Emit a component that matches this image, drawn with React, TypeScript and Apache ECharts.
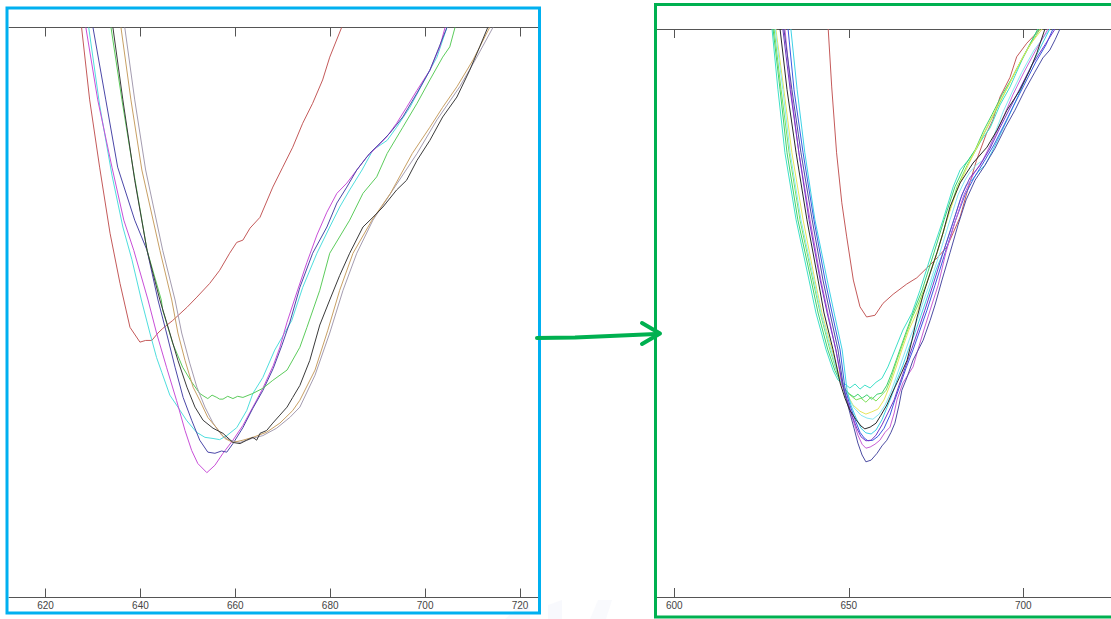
import React, { useEffect, useRef } from "react";
import * as echarts from "echarts";

// ---------- tick labels ----------
const leftTicks = [620, 640, 660, 680, 700, 720];
const rightTicks = [600, 650, 700];

// ---------- left panel (before) : [wavelength, relative value] ----------
const leftRed = [[627.6,100],[629.3,87.3],[631.4,75.5],[633.6,63.9],[635.7,55.1],[637.8,47.4],[639.9,44.8],[641.1,45.1],[642.4,45.1],[643.7,46.4],[644.7,47.2],[646.8,48.6],[649.8,50.9],[651.9,52.7],[654.6,55.1],[656.7,57.4],[658.8,60.4],[660.3,62.3],[661.6,62.7],[663.1,64.8],[665.2,66.7],[667.9,72.0],[670.0,75.5],[672.1,79.0],[674.2,83.2],[676.3,86.7],[678.4,90.8],[679.9,94.8],[682.4,100]];
const leftMagenta = [[628.5,100],[631.0,87.3],[634.0,75.5],[636.5,66.2],[638.6,60.9],[641.6,52.2],[643.4,46.4],[645.5,40.4],[647.6,34.6],[649.4,29.3],[650.8,25.8],[652.1,23.5],[654.0,21.9],[655.7,23.2],[657.4,25.3],[659.5,27.6],[661.6,30.2],[663.7,33.4],[665.8,36.7],[668.0,40.7],[669.4,43.9],[670.9,48.3],[673.0,53.6],[675.1,58.8],[677.2,63.6],[679.3,67.6],[681.4,70.9],[683.5,72.7],[685.6,75.0],[687.7,77.3],[689.8,79.0],[691.9,80.8],[694.0,83.2],[696.1,86.0],[698.3,89.0],[701.0,92.5],[703.1,96.6],[704.2,100]];
const leftCyan = [[629.1,100],[631.4,86.4],[634.0,74.1],[636.3,65.0],[638.2,59.3],[640.2,52.2],[642.0,46.4],[643.4,42.1],[644.5,39.5],[646.2,35.5],[647.9,33.4],[649.7,31.1],[651.8,29.0],[653.6,28.1],[655.3,27.9],[656.7,27.7],[658.2,28.4],[660.3,29.8],[662.4,32.8],[663.7,35.8],[665.8,38.6],[668.3,43.4],[671.9,48.6],[674.2,54.4],[677.2,60.4],[679.9,65.0],[682.0,68.5],[684.1,71.5],[686.7,75.0],[689.0,78.5],[692.0,80.2],[694.0,82.5],[696.8,86.0],[699.5,90.2],[702.5,94.8],[704.6,100]];
const leftNavy = [[630.0,100],[632.7,87.3],[635.2,75.5],[638.8,66.2],[641.4,60.9],[643.7,52.2],[645.5,46.4],[647.3,40.4],[649.0,35.1],[650.8,31.1],[652.5,27.6],[654.2,25.5],[655.7,25.3],[657.1,25.7],[658.2,25.5],[659.5,27.0],[661.6,29.8],[663.7,33.2],[665.8,36.3],[668.0,40.2],[669.8,44.2],[671.5,48.3],[673.6,54.4],[676.3,60.4],[679.3,65.0],[681.4,69.2],[683.5,72.0],[685.6,75.0],[688.3,77.9],[690.5,79.7],[692.6,81.5],[695.3,84.3],[698.3,88.5],[701.0,92.5],[704.6,100]];
const leftGreen = [[633.8,100],[636.1,87.3],[638.4,75.5],[641.4,60.9],[644.4,52.2],[644.7,50.4],[646.8,44.6],[648.9,40.4],[650.8,37.8],[652.5,35.8],[653.4,35.3],[654.2,34.9],[655.1,35.5],[656.1,35.1],[656.7,34.8],[657.4,34.8],[658.4,35.3],[659.5,34.9],[660.5,35.3],[661.6,35.1],[663.7,35.8],[665.8,36.7],[667.9,38.1],[670.9,39.9],[673.6,43.9],[675.1,47.4],[677.8,53.9],[679.9,60.4],[684.1,66.2],[686.9,70.9],[689.8,73.8],[692.0,77.9],[695.3,82.5],[698.3,86.7],[701.0,90.8],[703.7,94.8],[705.2,96.6],[706.3,100]];
const leftBlack = [[634.2,100],[636.3,87.3],[638.8,73.2],[641.4,60.9],[644.1,52.2],[646.2,46.4],[647.9,41.6],[649.8,36.9],[651.5,33.4],[653.2,31.1],[655.3,29.7],[657.4,28.8],[659.5,27.2],[661.0,27.0],[662.4,27.6],[663.7,28.1],[664.5,27.6],[665.2,28.8],[666.6,29.3],[667.9,30.6],[669.4,32.0],[670.9,33.4],[672.1,35.1],[673.6,37.2],[675.7,41.6],[677.8,47.8],[679.9,52.2],[682.0,56.5],[684.1,60.4],[686.9,65.0],[689.0,66.7],[691.1,68.5],[694.0,71.5],[696.1,73.2],[698.3,76.7],[701.0,80.2],[703.7,84.3],[706.7,87.8],[709.4,92.5],[711.5,96.6],[713.2,100]];
const leftTan = [[635.9,100],[638.0,87.3],[640.3,75.0],[644.1,60.9],[646.6,52.2],[647.9,46.4],[649.4,41.6],[651.1,36.9],[652.5,34.6],[654.2,31.6],[656.1,29.7],[657.8,27.9],[659.5,27.2],[661.6,27.6],[663.7,28.1],[666.6,29.0],[669.4,30.6],[672.1,32.8],[673.6,34.6],[676.8,39.9],[679.5,46.9],[682.0,53.9],[684.8,60.4],[688.8,66.2],[692.7,70.9],[697.3,77.9],[701.0,82.5],[703.7,86.0],[706.7,89.6],[710.1,94.3],[713.6,100]];
const leftGray = [[636.7,100],[638.8,87.3],[641.1,75.0],[644.7,60.9],[647.3,52.2],[648.7,46.4],[650.4,41.1],[651.9,36.9],[653.6,33.4],[655.3,30.6],[657.2,28.4],[658.8,27.6],[661.0,27.2],[663.5,27.9],[665.8,28.4],[668.7,29.7],[671.5,31.6],[673.6,33.4],[676.8,39.0],[679.9,46.4],[682.7,53.9],[685.6,60.4],[689.0,66.2],[693.2,71.5],[698.3,77.9],[702.5,83.8],[707.3,89.6],[710.9,94.8],[714.3,100]];

// ---------- right panel (after) ----------
const rightRed = [[644.1,100],[645.1,89.8],[646.5,78.2],[648.0,69.4],[649.4,63.4],[651.3,55.8],[653.2,51.1],[655.1,49.3],[657.5,49.6],[659.8,51.7],[662.7,53.3],[666.6,55.1],[669.5,56.2],[672.3,57.9],[674.7,59.3],[678.1,61.6],[679.9,64.1],[681.9,66.9],[683.8,71.1],[686.6,76.9],[689.5,81.7],[691.3,84.0],[693.3,88.0],[696.2,91.5],[698.1,95.1],[701.0,97.5],[703.8,99.3],[704.8,100]];
const rightTeal = [[628.0,100],[629.7,89.3],[631.7,78.2],[634.9,66.4],[638.6,55.8],[640.6,50.0],[643.5,43.5],[645.5,39.9],[646.9,38.2],[648.9,37.5],[650.3,36.8],[651.8,37.5],[653.2,36.6],[654.6,37.3],[656.1,36.8],[657.8,37.8],[659.5,38.5],[661.2,40.5],[663.2,43.5],[665.5,47.0],[668.1,50.0],[670.4,54.0],[673.8,60.6],[677.0,66.4],[679.9,72.2],[681.9,75.2],[684.2,76.9],[686.2,78.7],[688.4,80.8],[690.5,82.6],[693.3,86.6],[696.2,89.8],[699.6,94.5],[704.2,100]];
const rightGreen1 = [[628.3,100],[630.3,89.3],[632.3,78.2],[635.4,66.4],[639.2,55.8],[641.2,50.0],[644.0,43.5],[646.0,39.9],[648.1,37.3],[649.8,35.9],[651.5,35.2],[652.6,35.7],[653.8,35.0],[655.2,35.6],[656.6,34.8],[658.1,35.7],[659.5,35.9],[660.9,37.3],[662.4,39.6],[664.1,42.6],[666.1,46.1],[668.4,50.0],[671.0,54.0],[674.4,60.6],[677.3,66.4],[680.4,72.2],[683.3,76.0],[686.2,78.7],[688.7,82.2],[691.0,84.9],[693.9,88.4],[696.8,91.4],[700.2,95.4],[704.2,100]];
const rightGreen2 = [[628.6,100],[630.6,89.3],[632.9,78.2],[636.0,66.4],[639.7,55.8],[641.8,50.0],[644.6,43.5],[646.6,39.6],[648.3,37.1],[650.3,35.6],[652.1,34.7],[653.5,35.0],[654.9,34.3],[656.4,35.2],[657.8,34.5],[659.2,35.4],[660.7,36.4],[662.1,38.5],[663.8,41.7],[665.8,45.2],[668.1,49.1],[669.8,51.4],[672.4,55.4],[675.3,60.6],[678.1,66.4],[681.0,72.2],[683.9,76.0],[686.7,79.0],[689.6,82.6],[692.2,85.7],[694.8,88.9],[697.9,92.8],[701.1,96.3],[704.8,100]];
const rightYellow = [[629.1,100],[631.4,89.3],[633.7,78.2],[636.9,66.4],[640.3,55.8],[642.3,50.0],[645.2,43.5],[647.2,39.1],[649.2,36.1],[651.2,33.8],[653.2,32.7],[654.9,32.2],[656.6,32.6],[658.4,33.1],[660.1,34.7],[661.8,37.3],[663.5,40.3],[665.2,43.5],[667.2,47.0],[669.8,50.5],[672.1,54.9],[675.3,60.6],[678.1,66.4],[681.3,72.2],[684.2,76.0],[687.0,79.6],[689.9,83.1],[692.7,86.6],[695.6,89.8],[699.1,94.2],[701.9,97.2],[705.4,100]];
const rightLightCyan = [[628.9,100],[631.1,89.3],[633.2,78.2],[636.3,66.4],[640.0,55.8],[642.0,50.0],[644.9,43.5],[646.9,39.1],[649.2,35.9],[651.5,33.3],[653.5,32.0],[655.2,31.5],[656.9,31.3],[658.7,32.2],[660.4,33.8],[662.1,36.1],[663.8,39.1],[665.5,42.1],[667.5,45.6],[669.8,49.1],[671.0,51.4],[673.3,55.4],[676.1,60.6],[679.0,66.4],[681.3,70.8],[683.3,73.4],[684.7,74.8],[686.4,76.0],[688.4,76.9],[690.5,79.2],[692.2,82.2],[694.2,85.4],[696.8,88.9],[699.6,92.4],[703.1,96.3],[707.6,100]];
const rightBlack = [[630.3,100],[632.3,89.3],[634.9,78.2],[638.0,66.4],[641.2,55.8],[642.9,50.0],[645.5,43.5],[647.5,37.7],[648.9,35.0],[650.3,32.9],[652.1,31.2],[653.5,30.1],[654.6,29.6],[656.1,29.9],[657.8,30.6],[659.2,32.0],[660.9,33.8],[662.4,35.9],[663.8,37.7],[665.2,39.6],[666.7,41.7],[668.1,45.2],[669.5,49.1],[671.3,53.2],[673.3,57.0],[675.3,60.7],[677.0,64.1],[679.0,68.7],[681.9,72.9],[685.6,76.4],[689.6,79.2],[692.5,82.2],[695.3,85.7],[699.1,89.3],[701.9,92.8],[703.9,95.8],[706.2,100]];
const rightPurple = [[631.1,100],[633.2,89.3],[635.7,78.2],[638.6,66.4],[641.8,55.8],[643.8,50.0],[646.3,43.5],[648.1,37.7],[649.5,34.7],[650.9,32.0],[652.3,29.7],[653.5,28.2],[654.9,27.5],[656.4,27.6],[657.8,28.5],[659.5,30.3],[661.2,32.4],[663.0,34.7],[664.4,37.3],[666.1,40.3],[668.1,43.8],[670.1,47.4],[671.8,50.5],[674.1,54.9],[677.0,60.6],[679.9,66.0],[682.4,70.8],[684.7,73.8],[687.6,76.0],[690.5,79.0],[693.3,82.6],[696.2,86.1],[699.1,89.6],[702.5,93.7],[706.2,97.2],[709.1,100]];
const rightMagenta = [[631.7,100],[633.4,89.3],[635.7,78.2],[638.9,66.4],[642.0,55.8],[644.0,50.0],[646.3,43.5],[648.1,37.3],[649.8,34.1],[651.2,31.2],[652.6,28.5],[653.8,26.9],[654.9,26.2],[656.1,26.4],[657.5,26.9],[658.9,27.6],[660.4,29.0],[661.8,29.9],[663.0,32.4],[663.8,34.7],[665.5,37.7],[668.4,40.5],[669.8,43.5],[671.5,47.0],[673.3,50.5],[675.6,54.9],[677.8,60.6],[680.4,66.0],[683.0,70.8],[685.6,74.3],[688.4,76.9],[691.3,80.5],[694.2,84.3],[697.0,88.4],[700.2,92.4],[703.6,96.3],[707.1,100]];
const rightIndigo = [[631.4,100],[633.7,89.3],[636.3,78.2],[639.5,66.4],[642.6,55.8],[644.6,50.0],[646.9,43.5],[648.6,36.4],[650.1,32.9],[651.5,29.7],[652.6,27.1],[653.8,25.0],[654.9,23.8],[656.4,24.1],[658.1,25.3],[659.5,26.6],[660.9,27.6],[662.1,29.0],[663.2,30.6],[664.4,33.8],[665.2,36.4],[666.7,38.7],[668.4,41.7],[671.3,45.2],[673.3,48.7],[674.7,51.4],[676.7,55.8],[679.0,60.6],[681.3,65.5],[683.6,69.9],[686.2,73.4],[689.0,76.0],[691.9,79.0],[694.8,82.6],[697.6,85.7],[700.5,89.3],[703.3,92.4],[705.6,94.9],[707.6,96.3],[709.1,98.1],[710.5,100]];
const rightBlue = [[632.6,100],[634.3,89.3],[636.9,78.2],[640.0,66.4],[643.2,55.8],[645.2,50.0],[647.5,43.5],[648.9,36.8],[650.3,33.8],[651.8,31.2],[653.2,29.0],[654.4,28.0],[655.5,27.5],[656.9,27.6],[658.4,28.3],[660.1,29.7],[661.8,32.0],[663.2,34.7],[664.7,37.3],[666.4,40.3],[668.4,43.5],[670.4,47.0],[672.4,50.5],[674.7,54.9],[677.6,60.6],[680.4,66.0],[683.3,70.8],[685.9,73.8],[688.7,76.6],[691.6,79.6],[694.5,83.1],[697.3,86.6],[700.2,90.1],[703.6,94.2],[706.5,97.2],[708.5,100]];
const rightCyan = [[633.4,100],[635.2,89.3],[637.4,78.2],[640.3,66.4],[643.8,55.8],[645.8,50.0],[648.1,43.5],[649.5,36.4],[650.6,33.8],[652.1,31.5],[653.5,29.7],[654.9,28.9],[656.4,28.7],[657.8,29.4],[659.5,31.2],[660.9,33.3],[662.4,35.6],[663.8,38.2],[665.5,40.8],[667.2,43.8],[669.0,46.6],[670.7,49.6],[672.7,53.2],[675.0,57.6],[677.3,61.1],[679.6,65.5],[681.9,69.9],[683.6,72.5],[685.3,73.4],[687.0,74.8],[689.0,76.0],[691.3,78.7],[693.3,81.3],[695.6,84.3],[698.2,87.8],[701.1,91.9],[704.2,95.9],[707.6,100]];

const leftSeries: [number[][], string][] = [
  [leftRed, "#c45a5a"],
  [leftCyan, "#4fdede"],
  [leftMagenta, "#c84fd8"],
  [leftNavy, "#4b47a8"],
  [leftGreen, "#5ccc5c"],
  [leftGray, "#a49cb0"],
  [leftTan, "#c8a064"],
  [leftBlack, "#3a3a3a"],
];

const rightSeries: [number[][], string][] = [
  [rightRed, "#c45a5a"],
  [rightTeal, "#3ee0c8"],
  [rightGreen1, "#3dd06e"],
  [rightGreen2, "#7ee05a"],
  [rightYellow, "#e6e65c"],
  [rightLightCyan, "#86e8f2"],
  [rightCyan, "#3fd2e6"],
  [rightBlue, "#3a5ae0"],
  [rightMagenta, "#c860d4"],
  [rightPurple, "#7436c8"],
  [rightIndigo, "#4c4ca2"],
  [rightBlack, "#2a2a2a"],
];

const AXIS = "#555555";

function bottomAxis(grid: number, min: number, max: number, ticks: number[]) {
  return {
    type: "value",
    gridIndex: grid,
    position: "bottom",
    min,
    max,
    axisLine: { show: true, onZero: false, lineStyle: { color: AXIS, width: 1 } },
    axisTick: { show: true, inside: true, length: 9, customValues: ticks, lineStyle: { color: AXIS, width: 1 } },
    axisLabel: {
      show: true,
      customValues: ticks,
      color: "#444",
      fontSize: 10,
      fontFamily: "Liberation Sans, Arial, sans-serif",
      margin: 3,
    },
    splitLine: { show: false },
  };
}

function topAxis(grid: number, min: number, max: number, ticks: number[]) {
  return {
    type: "value",
    gridIndex: grid,
    position: "top",
    min,
    max,
    axisLine: { show: true, onZero: false, lineStyle: { color: AXIS, width: 1 } },
    axisTick: { show: true, inside: true, length: 9, customValues: ticks, lineStyle: { color: AXIS, width: 1 } },
    axisLabel: { show: false },
    splitLine: { show: false },
  };
}

export default function App() {
  const ref = useRef<HTMLDivElement>(null);

  useEffect(() => {
    if (!ref.current) return;
    const chart = echarts.init(ref.current, null, { renderer: "svg" });

    const series: any[] = [];
    leftSeries.forEach(([data, color]) => {
      series.push({
        type: "line",
        xAxisIndex: 0,
        yAxisIndex: 0,
        data,
        symbol: "none",
        showSymbol: false,
        clip: true,
        silent: true,
        lineStyle: { color, width: 1 },
        itemStyle: { color },
      });
    });
    rightSeries.forEach(([data, color]) => {
      series.push({
        type: "line",
        xAxisIndex: 2,
        yAxisIndex: 1,
        data,
        symbol: "none",
        showSymbol: false,
        clip: true,
        silent: true,
        lineStyle: { color, width: 1 },
        itemStyle: { color },
      });
    });

    chart.setOption({
      animation: false,
      backgroundColor: "#ffffff",
      grid: [
        { left: 9, top: 27.5, width: 529.5, height: 570 },
        { left: 657, top: 29, width: 454, height: 568 },
      ],
      xAxis: [
        bottomAxis(0, 612.3, 723.9, leftTicks),
        topAxis(0, 612.3, 723.9, leftTicks),
        bottomAxis(1, 595.04, 725.13, rightTicks),
        topAxis(1, 595.04, 725.13, rightTicks),
      ],
      yAxis: [
        { type: "value", gridIndex: 0, min: 0, max: 100, show: false },
        { type: "value", gridIndex: 1, min: 0, max: 100, show: false },
      ],
      series,
      graphic: [
        // very faint watermark pieces
        { type: "polygon", z: 50, silent: true, shape: { points: [[505, 619], [518, 607], [530, 607], [530, 619]] }, style: { fill: "rgba(200,208,238,0.12)" } },
        { type: "polygon", z: 50, silent: true, shape: { points: [[548, 619], [548, 605], [562, 600], [562, 619]] }, style: { fill: "rgba(200,208,238,0.12)" } },
        { type: "polygon", z: 50, silent: true, shape: { points: [[590, 619], [598, 600], [612, 600], [606, 619]] }, style: { fill: "rgba(200,208,238,0.1)" } },
        // panel borders
        { type: "rect", z: 100, silent: true, shape: { x: 7, y: 8, width: 532.5, height: 605 }, style: { fill: "none", stroke: "#00b0f0", lineWidth: 3 } },
        { type: "rect", z: 100, silent: true, shape: { x: 655.5, y: 4.5, width: 470, height: 612.5 }, style: { fill: "none", stroke: "#00b050", lineWidth: 3 } },
        // arrow
        { type: "polyline", z: 101, silent: true, shape: { points: [[537, 338], [575, 337.5], [610, 336], [656, 334]] }, style: { fill: "none", stroke: "#00b050", lineWidth: 4, lineCap: "round", lineJoin: "round" } },
        { type: "polyline", z: 101, silent: true, shape: { points: [[642, 323], [660, 333.5], [642, 344]] }, style: { fill: "none", stroke: "#00b050", lineWidth: 4, lineCap: "round", lineJoin: "round" } },
      ],
    });

    return () => {
      chart.dispose();
    };
  }, []);

  return (
    <div
      ref={ref}
      style={{ position: "fixed", left: 0, top: 0, width: 1111, height: 619, background: "#fff" }}
    />
  );
}
